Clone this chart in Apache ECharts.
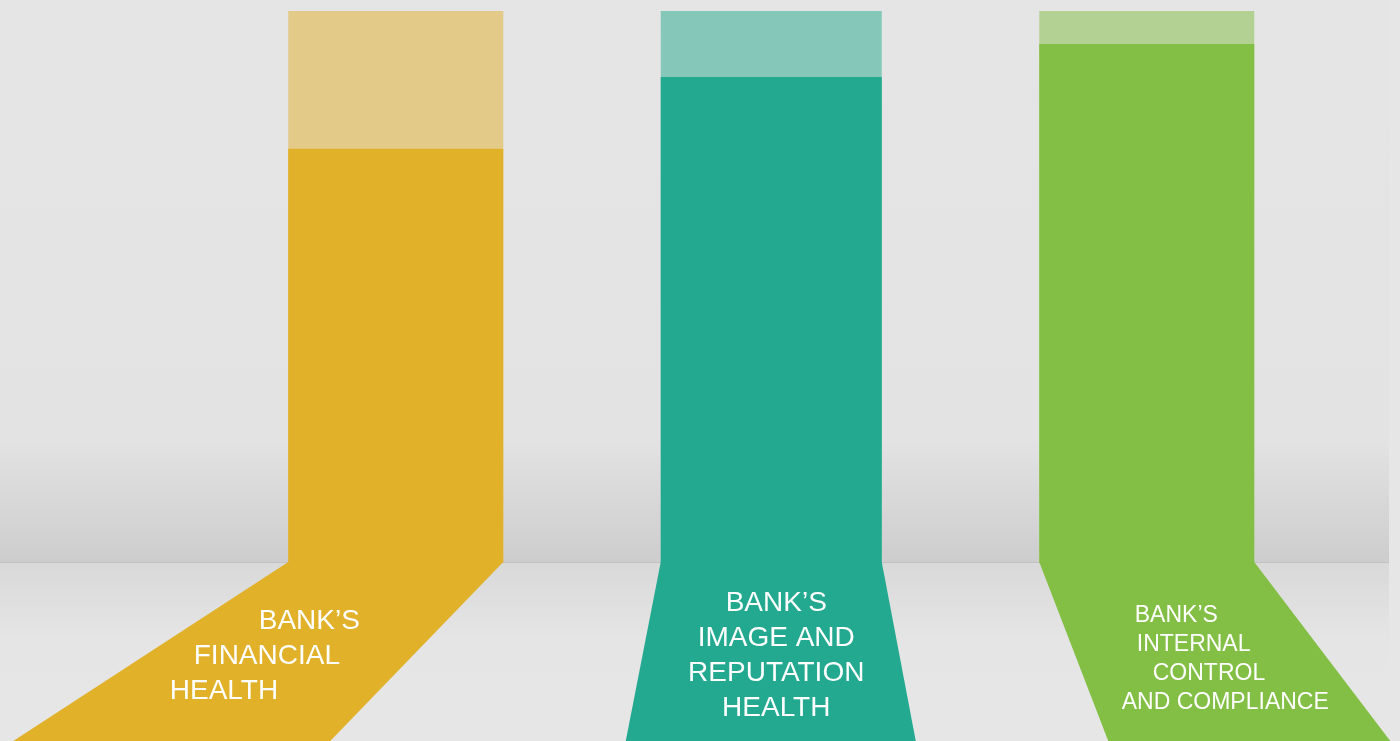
<!DOCTYPE html>
<html>
<head>
<meta charset="utf-8">
<script src="https://cdn.jsdelivr.net/npm/echarts@6/dist/echarts.min.js"></script>
<style>
html,body{margin:0;padding:0;background:#e6e6e6;}
#chart{width:1400px;height:741px;}
</style>
</head>
<body>
<div id="chart"></div>
<script>
// ---- data ----
var categories = ["Bank's Financial Health", "Bank's Image and Reputation Health", "Bank's Internal Control and Compliance"];
var values = [75, 88, 94];
var maxValues = [100, 100, 100];
var labelLines = [
  ["BANK\u2019S", "FINANCIAL", "HEALTH"],
  ["BANK\u2019S", "IMAGE AND", "REPUTATION", "HEALTH"],
  ["BANK\u2019S", "INTERNAL", "CONTROL", "AND COMPLIANCE"]
];

// ---- styles ----
var mainColors = ['#e1b129', '#22a98f', '#82bf44'];
var lightColors = ['#e3ca88', '#85c8ba', '#b4d194'];
var barWidths = [215, 221, 215];
var floorOffsets = [[-275, -173], [-35, 34], [69, 136]];
var labelStyle = [
  {size: 28, align: 'left', pos: [[-137, 59], [-202, 94], [-226, 129]]},
  {size: 28, align: 'center', pos: [[5, 41], [5, 76], [5, 111], [5, 146]]},
  {size: 23, align: 'left', pos: [[-12, 54], [-10, 83], [6, 112], [-25, 141]]}
];
var FONT = "'Liberation Sans', Arimo, Arial, sans-serif";

var chart = echarts.init(document.getElementById('chart'), null, {renderer: 'canvas'});

var H = 741;
var option = {
  backgroundColor: '#e6e6e6',
  animation: false,
  graphic: [
    {type: 'rect', z: -10, silent: true, shape: {x: 0, y: 0, width: 1389, height: 562},
      style: {fill: {type: 'linear', x: 0, y: 0, x2: 0, y2: 1, colorStops: [
        {offset: 0, color: '#e5e5e5'}, {offset: 0.78, color: '#e3e3e3'}, {offset: 1, color: '#cdcdcd'}]}}},
    {type: 'rect', z: -10, silent: true, shape: {x: 0, y: 562, width: 1389, height: 130},
      style: {fill: {type: 'linear', x: 0, y: 0, x2: 0, y2: 1, colorStops: [
        {offset: 0, color: '#d9d9d9'}, {offset: 0.6, color: '#e5e5e5'}, {offset: 1, color: '#e6e6e6'}]}}},
    {type: 'line', z: -9, silent: true, shape: {x1: 0, y1: 562.5, x2: 1389, y2: 562.5},
      style: {stroke: '#c2c2c2', lineWidth: 1}}
  ],
  grid: {left: 208, right: 65.5, top: 11, bottom: 179},
  xAxis: {type: 'category', data: categories, show: false},
  yAxis: {type: 'value', min: 0, max: 100, show: false},
  series: [{
    type: 'custom',
    clip: false,
    data: values.map(function (v, i) { return [i, v]; }),
    renderItem: function (params, api) {
      var i = params.dataIndex;
      var base = api.coord([api.value(0), 0]);
      var top = api.coord([api.value(0), api.value(1)]);
      var full = api.coord([api.value(0), maxValues[i]]);
      var w = barWidths[i];
      var cx = base[0];
      var l = cx - w / 2, r = cx + w / 2;
      var fo = floorOffsets[i];
      var children = [
        {type: 'polygon', shape: {points: [[l, base[1]], [r, base[1]], [r + fo[1], H], [l + fo[0], H]]},
          style: {fill: mainColors[i]}},
        {type: 'rect', shape: {x: l, y: full[1], width: w, height: base[1] - full[1]},
          style: {fill: lightColors[i]}},
        {type: 'rect', shape: {x: l, y: top[1], width: w, height: base[1] - top[1] + 1},
          style: {fill: mainColors[i]}}
      ];
      var ls = labelStyle[i];
      labelLines[i].forEach(function (txt, k) {
        children.push({
          type: 'text',
          style: {
            text: txt,
            x: cx + ls.pos[k][0],
            y: base[1] + ls.pos[k][1],
            fill: '#ffffff',
            fontSize: ls.size,
            fontFamily: FONT,
            align: ls.align,
            verticalAlign: 'middle'
          }
        });
      });
      return {type: 'group', children: children};
    }
  }]
};
chart.setOption(option);
</script>
</body>
</html>
